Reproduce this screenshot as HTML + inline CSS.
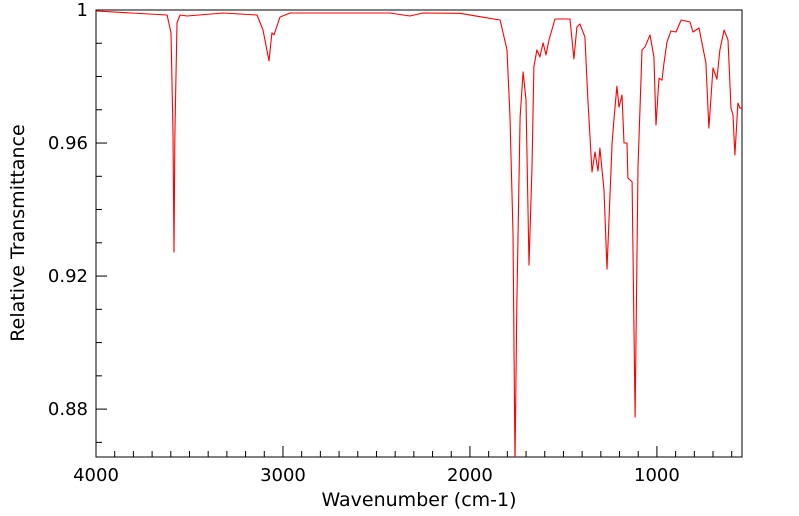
<!DOCTYPE html>
<html><head><meta charset="utf-8"><style>
body{margin:0;background:#fff}
svg{display:block;font-family:"DejaVu Sans","Liberation Sans",sans-serif}
</style></head><body>
<svg id="chart" width="799" height="516">
<defs><clipPath id="clip"><rect x="96" y="10" width="646" height="447"/></clipPath></defs>
<g id="axes"></g>
<path id="line" fill="none" stroke="#ff0000" stroke-width="1.1" stroke-linejoin="round" clip-path="url(#clip)"/>
<text x="419" y="506" text-anchor="middle" font-size="19">Wavenumber (cm-1)</text>
<text transform="translate(24,233) rotate(-90)" text-anchor="middle" font-size="19">Relative Transmittance</text>
</svg>
<script>
const wavenumbers=[4000,3620,3599,3588,3583,3578,3567,3551,3513,3321,3139,3107,3075,3059,3048,3016,2962,2428,2321,2251,2053,1946,1839,1802,1786,1770,1759,1749,1732,1716,1700,1684,1668,1658,1642,1626,1609,1593,1577,1545,1465,1444,1428,1412,1385,1369,1347,1331,1315,1305,1283,1267,1240,1230,1214,1203,1187,1176,1160,1155,1133,1117,1101,1080,1064,1037,1016,1005,989,973,962,946,925,898,870,823,807,775,738,722,700,679,663,641,620,604,593,583,567,556,540];
const transmittance=[0.9997,0.9985,0.9931,0.963,0.9272,0.963,0.9961,0.9985,0.9982,0.9991,0.9985,0.994,0.9847,0.9931,0.9925,0.9979,0.9991,0.9991,0.9982,0.9991,0.999,0.998,0.997,0.988,0.9678,0.9329,0.864,0.9128,0.9678,0.9814,0.9729,0.9233,0.9528,0.9829,0.988,0.9859,0.9901,0.9865,0.991,0.9973,0.9973,0.9853,0.9949,0.9958,0.9919,0.9729,0.9513,0.9573,0.9516,0.9585,0.9459,0.9221,0.96,0.9669,0.9771,0.9708,0.9744,0.96,0.96,0.9495,0.9483,0.8776,0.9528,0.988,0.9889,0.9925,0.9859,0.9654,0.9795,0.9789,0.9841,0.9904,0.9937,0.9934,0.997,0.9964,0.9934,0.9946,0.9841,0.9645,0.9826,0.9792,0.988,0.994,0.991,0.9705,0.9684,0.9564,0.972,0.9705,0.9705];
const xTicks=[4000,3000,2000,1000];
const xTickLabels=["4000","3000","2000","1000"];
const yTicks=[1,0.96,0.92,0.88];
const yTickLabels=["1","0.96","0.92","0.88"];
const X0=96,X1=742,Y0=10,Y1=457,WMAX=4000,WMIN=545,TMAX=1,TMIN=0.8656;
const sx=w=>X0+(WMAX-w)/(WMAX-WMIN)*(X1-X0);
const sy=t=>Y0+(TMAX-t)/(TMAX-TMIN)*(Y1-Y0);
const NS="http://www.w3.org/2000/svg";
const ax=document.getElementById('axes');
function mk(tag,attrs){const e=document.createElementNS(NS,tag);for(const k in attrs)e.setAttribute(k,attrs[k]);ax.appendChild(e);return e;}
const frame=mk('rect',{x:X0,y:Y0,width:X1-X0,height:Y1-Y0,fill:'none',stroke:'#000','stroke-width':1});


for(let w=4000;w>WMIN;w-=100){const maj=w%1000===0;const t=mk('line',{x1:sx(w),x2:sx(w),y1:Y1,y2:Y1-(maj?11:6),stroke:'#000'});

}
xTicks.forEach((w,i)=>{const t=mk('text',{x:sx(w),y:481,'text-anchor':'middle','font-size':18});t.textContent=xTickLabels[i];

});
for(let k=0;k<=13;k++){const v=1-k*0.01;if(v<TMIN)break;const maj=k%4===0;const t=mk('line',{x1:X0,x2:X0+(maj?11:6),y1:sy(v),y2:sy(v),stroke:'#000'});

}
yTicks.forEach((v,i)=>{const t=mk('text',{x:88,y:sy(v)+6,'text-anchor':'end','font-size':18});t.textContent=yTickLabels[i];

});
document.getElementById('line').setAttribute('d',wavenumbers.map((w,i)=>(i?'L':'M')+sx(w).toFixed(1)+','+sy(transmittance[i]).toFixed(1)).join(''));
</script>
</body></html>
